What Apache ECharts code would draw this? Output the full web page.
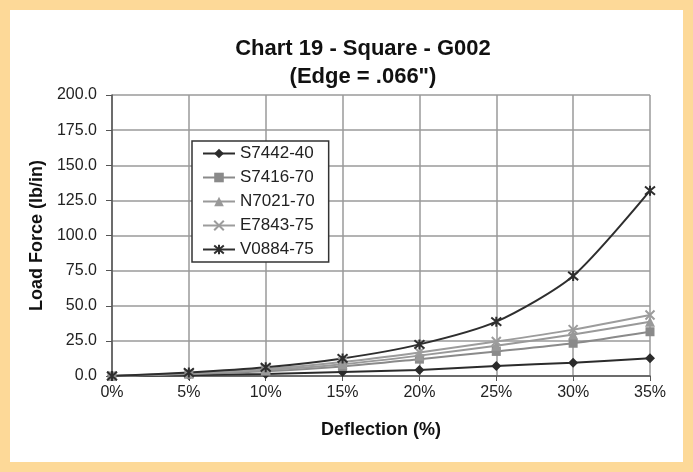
<!DOCTYPE html>
<html>
<head>
<meta charset="utf-8">
<script src="https://cdn.jsdelivr.net/npm/echarts@6/dist/echarts.min.js"></script>
<style>
  html, body { margin: 0; padding: 0; background: #fdd998; }
  #chart { width: 693px; height: 472px; }
</style>
</head>
<body>
<div id="chart"></div>
<script>
// Chart 19 - Square - G002, load force vs deflection
const deflection = ['0%', '5%', '10%', '15%', '20%', '25%', '30%', '35%'];
const s7442 = [0, 0.6, 1.5, 2.8, 4.3, 7.1, 9.5, 12.6];
const s7416 = [0, 1.4, 3.4, 6.8, 12.0, 17.5, 23.3, 31.5];
const n7021 = [0, 1.7, 4.2, 8.4, 14.5, 21.5, 29.5, 38.6];
const e7843 = [0, 2.0, 5.0, 10.0, 16.8, 24.5, 33.0, 43.4];
const v0884 = [0, 2.5, 6.2, 12.5, 22.5, 38.7, 71.2, 131.9];
const yTicks = { min: 0, max: 200, step: 25 };

const X_PATH = 'path://M0,0 L10,10 M10,0 L0,10';
const STAR_PATH = 'path://M0,0 L10,10 M10,0 L0,10 M5,-1 L5,11';

const FONT = 'Liberation Sans, Arial, sans-serif';

function line(name, data, color, symbol, size) {
  return {
    name, type: 'line', data,
    smooth: 0.25,
    symbol, symbolSize: size,
    showSymbol: true,
    lineStyle: { color, width: 2 },
    itemStyle: { color, borderColor: color, borderWidth: symbol.startsWith('path') ? 2 : 0 },
  };
}

const chart = echarts.init(document.getElementById('chart'));
chart.setOption({
  animation: false,
  backgroundColor: '#fdd998',
  textStyle: { fontFamily: FONT },
  graphic: [{
    type: 'rect', left: 10, top: 10, z: -10,
    shape: { width: 673, height: 452 },
    style: { fill: '#ffffff' },
  }],
  title: {
    text: 'Chart 19 - Square - G002\n(Edge = .066")',
    left: 358, top: 30, textAlign: 'center',
    textStyle: { fontSize: 22, fontWeight: 'bold', color: '#111', lineHeight: 28, fontFamily: FONT },
  },
  legend: {
    orient: 'vertical',
    left: 192, top: 141,
    itemWidth: 32, itemHeight: 12, itemGap: 7,
    padding: [4, 14, 4, 10],
    borderColor: '#333', borderWidth: 1.5,
    backgroundColor: '#fff',
    textStyle: { fontSize: 17, color: '#222', lineHeight: 16 },
    data: ['S7442-40', 'S7416-70', 'N7021-70', 'E7843-75', 'V0884-75'],
  },
  grid: { left: 112, right: 43, top: 95, bottom: 96 },
  xAxis: {
    type: 'category', data: deflection, boundaryGap: false,
    name: 'Deflection (%)', nameLocation: 'middle', nameGap: 45,
    nameTextStyle: { fontSize: 18, fontWeight: 'bold', color: '#111' },
    axisLine: { lineStyle: { color: '#555', width: 1.5 } },
    axisTick: { show: true, length: 5, lineStyle: { color: '#555' } },
    axisLabel: { fontSize: 16, color: '#222', margin: 9 },
    splitLine: { show: true, lineStyle: { color: '#9a9a9a', width: 1.5 } },
  },
  yAxis: {
    type: 'value', min: yTicks.min, max: yTicks.max, interval: yTicks.step,
    name: 'Load Force (lb/in)', nameLocation: 'middle', nameGap: 64,
    nameTextStyle: { fontSize: 18, fontWeight: 'bold', color: '#111' },
    axisLine: { show: true, lineStyle: { color: '#555', width: 1.5 } },
    axisTick: { show: true, length: 6, lineStyle: { color: '#555' } },
    axisLabel: { fontSize: 16, color: '#222', margin: 15, formatter: v => v.toFixed(1) },
    splitLine: { show: true, lineStyle: { color: '#9a9a9a', width: 1.5 } },
  },
  series: [
    line('S7442-40', s7442, '#2b2b2b', 'diamond', 10),
    line('S7416-70', s7416, '#8a8a8a', 'rect', 9),
    line('N7021-70', n7021, '#999999', 'triangle', 10),
    line('E7843-75', e7843, '#9c9c9c', X_PATH, 9),
    line('V0884-75', v0884, '#2e2e2e', STAR_PATH, 10),
  ],
});
</script>
</body>
</html>
